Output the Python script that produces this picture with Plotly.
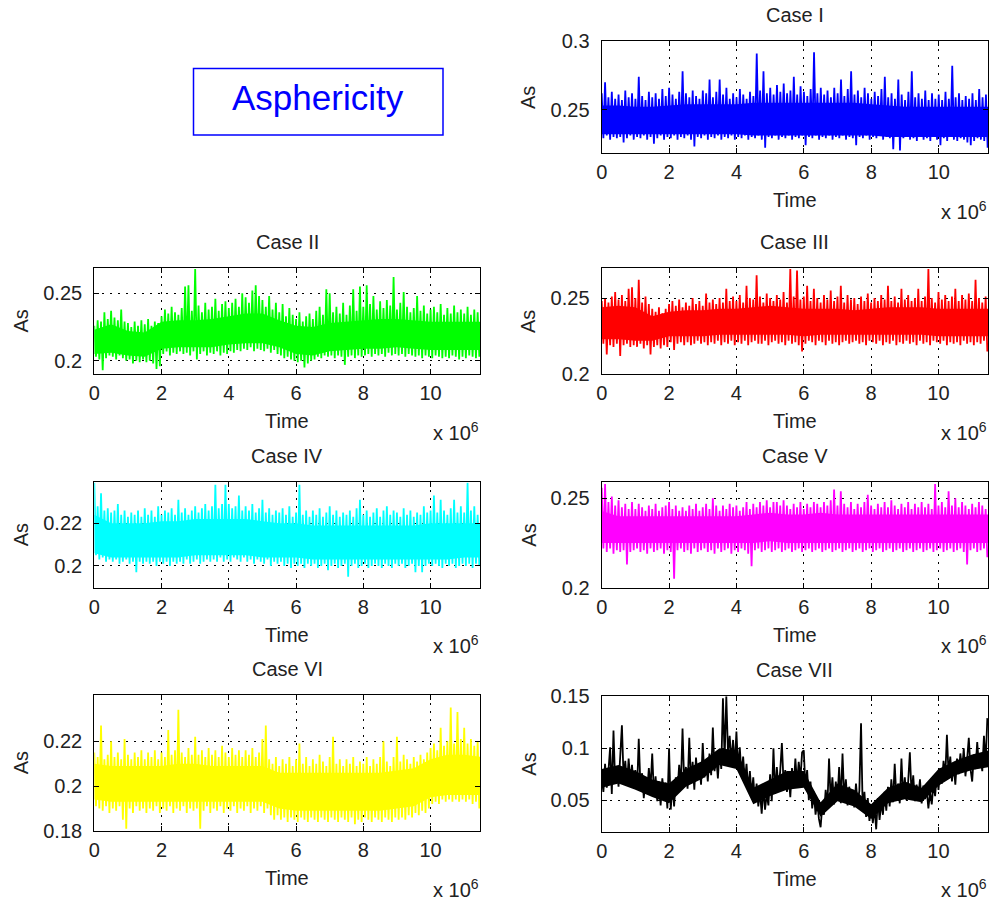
import numpy as np
import plotly.graph_objects as go

# Asphericity (As x 1000), one value every 0.05e6 time units
case1_milli = [
    262, 229, 270, 231, 259, 228, 263, 230, 258, 229,
    261, 230, 257, 226, 264, 229, 259, 231, 262, 228,
    258, 230, 274, 229, 260, 231, 257, 228, 263, 230,
    259, 225, 262, 229, 258, 231, 265, 228, 260, 230,
    266, 229, 261, 231, 258, 228, 263, 230, 278, 229,
    262, 231, 259, 228, 264, 223, 260, 230, 258, 229,
    264, 231, 262, 228, 272, 230, 259, 229, 263, 231,
    272, 228, 261, 230, 266, 229, 258, 231, 262, 228,
    259, 230, 265, 229, 261, 231, 258, 228, 263, 230,
    260, 229, 291, 231, 264, 228, 278, 222, 262, 230,
    266, 229, 261, 231, 268, 228, 263, 230, 269, 229,
    262, 231, 264, 228, 274, 230, 261, 229, 267, 231,
    263, 224, 260, 230, 265, 229, 292, 231, 262, 228,
    266, 230, 261, 229, 264, 231, 259, 228, 266, 230,
    262, 229, 272, 231, 260, 228, 265, 230, 278, 229,
    261, 224, 264, 230, 259, 229, 266, 231, 262, 228,
    258, 230, 263, 229, 260, 231, 265, 228, 274, 230,
    259, 229, 262, 221, 258, 230, 272, 220, 261, 229,
    257, 230, 263, 228, 278, 229, 259, 227, 262, 230,
    258, 228, 264, 229, 257, 227, 262, 230, 258, 228,
    261, 224, 257, 229, 263, 227, 258, 230, 282, 228,
    259, 227, 262, 229, 257, 228, 260, 226, 258, 224,
    262, 227, 257, 229, 265, 228, 259, 227, 261, 222,
]

case2_milli = [
    226, 203, 230, 201, 229, 193, 236, 202, 231, 204,
    237, 203, 232, 201, 230, 204, 238, 202, 229, 200,
    228, 201, 225, 198, 229, 200, 226, 199, 230, 201,
    227, 199, 231, 200, 226, 198, 229, 194, 228, 196,
    233, 205, 238, 207, 235, 204, 240, 206, 236, 205,
    234, 207, 239, 205, 255, 206, 256, 204, 237, 207,
    268, 201, 241, 205, 236, 207, 243, 204, 238, 206,
    240, 205, 246, 207, 237, 204, 242, 206, 244, 205,
    239, 207, 243, 206, 246, 208, 240, 207, 250, 209,
    247, 208, 243, 210, 252, 207, 256, 209, 248, 208,
    245, 207, 240, 209, 248, 206, 238, 208, 243, 205,
    236, 204, 242, 202, 233, 203, 239, 201, 234, 200,
    231, 199, 236, 200, 229, 195, 233, 198, 235, 200,
    231, 201, 237, 203, 240, 202, 234, 204, 253, 203,
    250, 204, 236, 202, 240, 204, 235, 203, 243, 197,
    234, 203, 241, 204, 253, 202, 237, 204, 255, 203,
    240, 204, 256, 205, 242, 203, 248, 205, 238, 204,
    244, 205, 239, 203, 245, 206, 241, 204, 262, 205,
    238, 204, 243, 205, 251, 203, 240, 205, 236, 204,
    239, 203, 248, 204, 237, 202, 241, 204, 235, 203,
    238, 202, 240, 204, 236, 203, 242, 202, 234, 203,
    239, 202, 235, 204, 241, 203, 236, 201, 238, 203,
    235, 202, 240, 204, 234, 203, 238, 202, 236, 203,
]

case3_milli = [
    248, 220, 250, 213, 247, 219, 251, 218, 254, 220,
    249, 212, 252, 219, 248, 220, 256, 218, 257, 219,
    250, 218, 262, 220, 247, 217, 251, 219, 246, 213,
    243, 218, 241, 219, 244, 217, 240, 219, 243, 218,
    246, 221, 248, 216, 245, 220, 249, 221, 244, 219,
    247, 221, 245, 219, 250, 220, 246, 222, 248, 220,
    245, 221, 253, 219, 247, 221, 249, 220, 246, 222,
    250, 219, 247, 221, 256, 220, 248, 222, 251, 219,
    248, 221, 252, 220, 247, 222, 258, 219, 250, 221,
    249, 222, 265, 220, 251, 220, 247, 222, 253, 219,
    250, 221, 248, 222, 252, 220, 249, 221, 254, 219,
    247, 222, 269, 220, 251, 221, 268, 219, 249, 215,
    251, 220, 258, 222, 248, 221, 256, 219, 250, 222,
    247, 221, 252, 219, 249, 222, 255, 220, 248, 221,
    251, 219, 258, 221, 247, 222, 252, 220, 249, 221,
    250, 222, 246, 220, 251, 221, 248, 219, 253, 222,
    247, 221, 250, 220, 248, 222, 252, 219, 249, 221,
    258, 220, 248, 222, 251, 219, 247, 221, 256, 220,
    249, 222, 252, 220, 248, 221, 250, 219, 256, 222,
    248, 220, 251, 221, 269, 219, 250, 222, 247, 221,
    254, 220, 249, 222, 252, 219, 248, 221, 251, 220,
    256, 221, 248, 219, 252, 222, 249, 220, 253, 221,
    248, 219, 262, 221, 250, 220, 247, 222, 251, 215,
]

case4_milli = [
    239, 205, 228, 203, 234, 204, 226, 202, 227, 203,
    225, 202, 226, 203, 229, 201, 224, 202, 226, 203,
    223, 201, 225, 202, 224, 197, 226, 202, 223, 201,
    227, 202, 224, 201, 226, 202, 223, 200, 228, 202,
    224, 201, 226, 202, 225, 200, 227, 202, 224, 201,
    231, 202, 225, 201, 227, 203, 224, 201, 226, 202,
    228, 203, 225, 201, 227, 202, 229, 203, 226, 202,
    228, 203, 238, 202, 227, 204, 229, 202, 238, 203,
    229, 202, 227, 204, 228, 203, 233, 202, 226, 204,
    228, 202, 226, 203, 229, 201, 225, 203, 227, 202,
    231, 201, 225, 203, 227, 200, 224, 202, 226, 201,
    225, 202, 227, 200, 224, 201, 228, 199, 223, 201,
    225, 200, 238, 201, 224, 199, 226, 201, 223, 200,
    226, 201, 224, 199, 227, 200, 223, 201, 225, 198,
    228, 200, 224, 201, 226, 199, 223, 200, 225, 201,
    224, 195, 226, 200, 223, 201, 227, 199, 231, 200,
    224, 201, 226, 199, 223, 200, 225, 201, 227, 200,
    223, 199, 226, 201, 228, 200, 224, 199, 226, 201,
    225, 200, 223, 201, 227, 199, 224, 200, 226, 201,
    223, 197, 225, 200, 224, 197, 228, 200, 225, 201,
    226, 200, 233, 201, 225, 200, 231, 199, 226, 201,
    224, 200, 227, 201, 231, 199, 225, 200, 228, 201,
    225, 200, 239, 201, 226, 199, 228, 201, 224, 200,
]

case5_milli = [
    256, 222, 258, 220, 248, 222, 251, 219, 246, 221,
    249, 220, 245, 221, 247, 213, 244, 220, 248, 221,
    244, 222, 247, 220, 245, 221, 243, 219, 246, 222,
    244, 220, 247, 221, 243, 222, 245, 219, 246, 221,
    248, 220, 244, 205, 246, 221, 243, 222, 245, 220,
    243, 221, 246, 219, 244, 222, 247, 220, 243, 221,
    245, 222, 247, 220, 244, 221, 250, 219, 246, 222,
    243, 220, 246, 221, 244, 222, 247, 219, 245, 221,
    246, 220, 243, 222, 245, 221, 248, 219, 244, 212,
    247, 221, 245, 222, 248, 220, 246, 221, 249, 222,
    245, 220, 248, 221, 248, 222, 246, 220, 249, 221,
    246, 222, 244, 220, 247, 221, 245, 222, 248, 220,
    244, 221, 247, 222, 245, 220, 248, 221, 247, 222,
    245, 220, 248, 221, 246, 222, 249, 220, 255, 221,
    246, 222, 254, 220, 247, 221, 245, 222, 248, 220,
    244, 221, 247, 222, 245, 220, 248, 221, 252, 222,
    246, 220, 244, 221, 247, 222, 245, 220, 248, 221,
    245, 222, 249, 220, 246, 221, 244, 222, 247, 220,
    245, 221, 248, 222, 244, 220, 247, 221, 245, 222,
    248, 220, 245, 221, 247, 222, 244, 220, 258, 221,
    246, 222, 248, 220, 245, 221, 254, 222, 246, 220,
    250, 221, 245, 222, 248, 220, 246, 213, 244, 221,
    247, 222, 245, 220, 248, 221, 246, 222, 244, 217,
]

case6_milli = [
    215, 191, 213, 190, 227, 189, 212, 191, 214, 188,
    220, 190, 213, 189, 215, 191, 212, 185, 221, 181,
    214, 190, 212, 188, 215, 191, 213, 189, 216, 190,
    212, 188, 215, 190, 213, 189, 216, 191, 212, 188,
    215, 190, 213, 189, 225, 191, 214, 188, 216, 190,
    234, 189, 215, 191, 213, 188, 217, 190, 214, 189,
    222, 190, 214, 181, 216, 189, 213, 191, 217, 188,
    214, 190, 216, 189, 213, 191, 218, 188, 215, 190,
    213, 189, 217, 191, 214, 188, 216, 190, 213, 189,
    216, 191, 214, 188, 217, 190, 213, 189, 215, 191,
    221, 188, 227, 190, 212, 187, 210, 185, 213, 187,
    209, 185, 212, 186, 210, 184, 213, 186, 209, 185,
    212, 184, 219, 186, 210, 185, 213, 184, 209, 186,
    212, 185, 210, 184, 214, 186, 211, 185, 209, 184,
    213, 186, 222, 185, 210, 184, 212, 186, 209, 185,
    212, 184, 210, 186, 213, 183, 209, 185, 211, 184,
    210, 186, 213, 185, 209, 184, 212, 186, 210, 185,
    213, 184, 220, 186, 211, 185, 209, 184, 213, 186,
    222, 185, 211, 186, 214, 185, 212, 187, 210, 186,
    213, 188, 211, 187, 214, 189, 212, 188, 215, 190,
    217, 192, 219, 193, 216, 192, 226, 194, 218, 193,
    220, 194, 235, 193, 219, 194, 233, 193, 221, 194,
    226, 193, 219, 194, 221, 192, 218, 193, 220, 190,
]

case7_milli = [
    72, 58, 85, 62, 78, 101, 56, 117, 66, 82,
    63, 94, 122, 71, 88, 64, 90, 68, 84, 62,
    79, 60, 109, 64, 76, 52, 72, 58, 81, 61,
    95, 56, 73, 49, 68, 45, 71, 55, 67, 42,
    100, 41, 66, 44, 72, 58, 84, 63, 119, 66,
    82, 61, 110, 68, 87, 60, 91, 70, 83, 65,
    105, 72, 89, 68, 95, 74, 120, 78, 92, 71,
    98, 80, 148, 90, 150, 95, 112, 86, 108, 83,
    116, 80, 101, 74, 92, 68, 85, 60, 78, 55,
    72, 48, 66, 44, 58, 37, 62, 41, 56, 45,
    75, 49, 100, 56, 82, 60, 78, 105, 66, 79,
    58, 74, 53, 81, 62, 90, 66, 87, 70, 96,
    98, 62, 79, 50, 68, 42, 58, 36, 49, 32,
    24, 45, 36, 60, 44, 90, 50, 72, 46, 68,
    51, 82, 47, 95, 52, 70, 45, 63, 49, 58,
    43, 66, 47, 59, 124, 40, 58, 34, 52, 30,
    46, 28, 43, 22, 52, 31, 48, 36, 58, 40,
    63, 44, 70, 48, 85, 52, 66, 47, 90, 53,
    72, 50, 68, 96, 55, 74, 49, 65, 52, 70,
    47, 64, 51, 60, 42, 58, 46, 66, 54, 75,
    60, 81, 66, 88, 72, 113, 74, 92, 68, 86,
    65, 90, 75, 95, 78, 100, 73, 89, 110, 80,
    68, 94, 80, 106, 83, 92, 78, 112, 85, 129,
]

# Dense core of each signal (As x 1000): lower / upper edge every 0.5e6
case1_core_lo = [232, 232, 232, 232, 232, 232, 232, 232, 232, 231, 231, 231,
                 231, 231, 231, 231, 231, 230, 230, 230, 230, 230, 230, 230]
case1_core_hi = [253, 253, 252, 252, 253, 254, 254, 254, 254, 255, 255, 255,
                 255, 255, 255, 255, 254, 253, 252, 252, 252, 252, 252, 252]
case2_core_lo = [205, 206, 204, 203, 209, 210, 210, 210, 212, 213, 213, 210,
                 205, 204, 207, 208, 209, 209, 210, 209, 208, 208, 208, 208]
case2_core_hi = [223, 227, 222, 221, 229, 230, 230, 231, 233, 235, 235, 230,
                 226, 225, 228, 229, 230, 231, 231, 230, 229, 229, 229, 229]
case3_core_lo = [223, 223, 222, 222, 225, 225, 225, 226, 226, 226, 226, 226,
                 225, 226, 226, 226, 226, 226, 226, 226, 225, 225, 225, 225]
case3_core_hi = [244, 245, 244, 238, 241, 242, 242, 243, 243, 244, 245, 244,
                 243, 243, 243, 242, 243, 244, 244, 244, 243, 243, 243, 243]
case4_core_lo = [206, 204, 204, 204, 204, 204, 205, 205, 205, 205, 204, 204,
                 204, 203, 203, 203, 203, 203, 203, 203, 203, 203, 204, 204]
case4_core_hi = [224, 220, 220, 220, 221, 221, 222, 222, 222, 222, 221, 220,
                 220, 219, 219, 219, 219, 219, 219, 219, 220, 220, 220, 220]
case5_core_lo = [225, 225, 225, 225, 225, 225, 225, 225, 225, 225, 226, 225,
                 225, 225, 225, 225, 225, 225, 225, 225, 225, 225, 225, 225]
case5_core_hi = [243, 240, 240, 240, 240, 240, 240, 240, 240, 241, 242, 241,
                 241, 242, 241, 241, 241, 241, 241, 241, 241, 241, 241, 241]
case6_core_lo = [194, 193, 193, 193, 193, 193, 193, 193, 193, 193, 193, 190,
                 189, 189, 189, 189, 189, 189, 190, 191, 195, 196, 196, 196]
case6_core_hi = [210, 209, 209, 209, 209, 210, 210, 209, 209, 209, 209, 206,
                 206, 206, 206, 206, 206, 206, 207, 208, 212, 214, 214, 213]
case7_core_lo = [62, 66, 60, 53, 47, 63, 71, 84, 80, 46, 54, 60,
                 62, 34, 49, 44, 32, 47, 51, 48, 64, 74, 79, 82]
case7_core_hi = [80, 84, 78, 70, 66, 80, 88, 100, 98, 62, 70, 78,
                 78, 48, 66, 60, 46, 62, 68, 62, 80, 88, 94, 98]

case_titles = ["Case I", "Case II", "Case III", "Case IV", "Case V", "Case VI", "Case VII"]
case_series = [case1_milli, case2_milli, case3_milli, case4_milli,
               case5_milli, case6_milli, case7_milli]
case_core = [(case1_core_lo, case1_core_hi), (case2_core_lo, case2_core_hi),
             (case3_core_lo, case3_core_hi), (case4_core_lo, case4_core_hi),
             (case5_core_lo, case5_core_hi), (case6_core_lo, case6_core_hi),
             (case7_core_lo, case7_core_hi)]

x_tick_vals = [0, 2e6, 4e6, 6e6, 8e6, 10e6]
x_tick_text = ["0", "2", "4", "6", "8", "10"]

y_tick_vals = [
    [0.25, 0.3],
    [0.2, 0.25],
    [0.2, 0.25],
    [0.2, 0.22],
    [0.2, 0.25],
    [0.18, 0.2, 0.22],
    [0.05, 0.1, 0.15],
]
y_tick_text = [
    ["0.25", "0.3"],
    ["0.2", "0.25"],
    ["0.2", "0.25"],
    ["0.2", "0.22"],
    ["0.2", "0.25"],
    ["0.18", "0.2", "0.22"],
    ["0.05", "0.1", "0.15"],
]
y_limits = [
    (0.218, 0.3),
    (0.19, 0.2685),
    (0.2, 0.2695),
    (0.1898, 0.2392),
    (0.2, 0.259),
    (0.18, 0.2406),
    (0.0197, 0.15),
]

SAMPLE_STEP = 0.05e6
CORE_STEP = 0.5e6
TIME_MAX = 11.47e6

# --- styling and placement (pixels in a 991 x 903 page) ---
W, H = 991, 903
line_colors = ["#0000ff", "#00ff00", "#ff0000", "#00ffff", "#ff00ff", "#ffff00", "#000000"]
# (left, right, top, bottom) of each axes box
boxes = [
    (601.7, 988.3, 41.3, 153.3),
    (94.3, 480.0, 268.3, 374.3),
    (601.7, 988.0, 268.3, 374.3),
    (94.3, 480.0, 482.3, 587.7),
    (601.7, 988.0, 482.3, 587.7),
    (94.3, 480.0, 695.0, 831.0),
    (601.7, 988.0, 696.3, 831.7),
]

FONT = "Liberation Sans, Arial, sans-serif"
TXT = "#222222"
FS = 20


def px(x):
    return x / W


def py(y):
    return 1 - y / H


fig = go.Figure()
annotations = []
layout_axes = {}

for k, (title, series) in enumerate(zip(case_titles, case_series)):
    n = k + 1
    xa = "x" if n == 1 else f"x{n}"
    ya = "y" if n == 1 else f"y{n}"
    color = line_colors[k]

    # dense core band
    core_lo, core_hi = case_core[k]
    core_t = np.arange(len(core_lo)) * CORE_STEP
    fig.add_trace(go.Scatter(
        x=core_t, y=np.array(core_lo) / 1000.0, mode="lines",
        line=dict(width=0, color=color), xaxis=xa, yaxis=ya,
        showlegend=False, hoverinfo="skip",
    ))
    fig.add_trace(go.Scatter(
        x=core_t, y=np.array(core_hi) / 1000.0, mode="lines",
        line=dict(width=0, color=color), fill="tonexty", fillcolor=color,
        xaxis=xa, yaxis=ya, showlegend=False, hoverinfo="skip",
    ))

    # sampled signal
    values = np.array(series) / 1000.0
    times = np.arange(len(values)) * SAMPLE_STEP
    fig.add_trace(go.Scatter(
        x=times, y=values, mode="lines",
        line=dict(color=color, width=1.8),
        xaxis=xa, yaxis=ya, showlegend=False, hoverinfo="skip",
    ))

    left, right, top, bottom = boxes[k]
    axis_common = dict(
        showline=True, linecolor="black", linewidth=1.3, mirror="ticks",
        ticks="inside", ticklen=5, tickwidth=1, tickcolor="black",
        showgrid=True, gridcolor="black", gridwidth=1, griddash="2px,6px",
        zeroline=False, automargin=False,
        tickfont=dict(family=FONT, size=FS, color=TXT),
    )
    layout_axes["xaxis" if n == 1 else f"xaxis{n}"] = dict(
        axis_common, domain=[px(left), px(right)], range=[0, TIME_MAX],
        tickmode="array", tickvals=x_tick_vals, ticktext=x_tick_text,
        anchor=ya, ticklabelstandoff=1,
    )
    layout_axes["yaxis" if n == 1 else f"yaxis{n}"] = dict(
        axis_common, domain=[py(bottom), py(top)], range=list(y_limits[k]),
        tickmode="array", tickvals=y_tick_vals[k], ticktext=y_tick_text[k],
        anchor=xa, ticklabelstandoff=7,
    )
    cx = (left + right) / 2
    cy = (top + bottom) / 2
    annotations += [
        dict(text=title, x=px(cx), y=py(top - 26), xref="paper", yref="paper",
             showarrow=False, xanchor="center", yanchor="middle",
             font=dict(family=FONT, size=FS, color=TXT)),
        dict(text="Time", x=px(cx), y=py(bottom + 47), xref="paper", yref="paper",
             showarrow=False, xanchor="center", yanchor="middle",
             font=dict(family=FONT, size=FS, color=TXT)),
        dict(text="As", x=px(left - 73), y=py(cy), xref="paper", yref="paper",
             showarrow=False, xanchor="center", yanchor="middle", textangle=-90,
             font=dict(family=FONT, size=FS, color=TXT)),
        dict(text="x 10<sup>6</sup>", x=px(right + 1), y=py(bottom + 57),
             xref="paper", yref="paper", showarrow=False,
             xanchor="right", yanchor="middle",
             font=dict(family=FONT, size=FS, color=TXT)),
    ]

# framed heading
annotations.append(dict(
    text="Asphericity", x=px(318), y=py(98), xref="paper", yref="paper",
    showarrow=False, xanchor="center", yanchor="middle",
    font=dict(family=FONT, size=35, color="#0000ff"),
))

fig.update_layout(
    width=W, height=H,
    margin=dict(l=0, r=0, t=0, b=0, pad=0, autoexpand=False),
    paper_bgcolor="white", plot_bgcolor="white",
    annotations=annotations,
    shapes=[dict(type="rect", xref="paper", yref="paper",
                 x0=px(193.5), x1=px(443), y0=py(135), y1=py(68.5),
                 line=dict(color="#0000ff", width=1.5))],
    **layout_axes,
)

fig.write_html("out.html", post_script="document.body.style.margin = '0';")
